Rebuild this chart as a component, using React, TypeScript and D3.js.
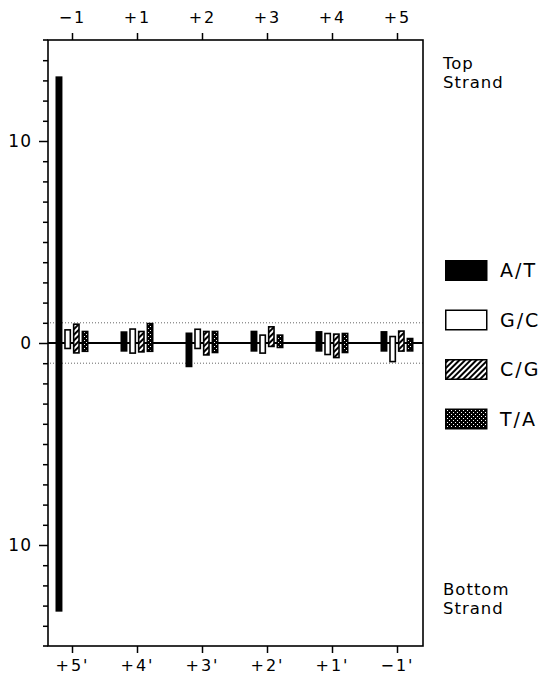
import * as React from "react"
import * as d3 from "d3"

// positions along the site, top strand and bottom strand
const topPositions = ["−1", "+1", "+2", "+3", "+4", "+5"]
const bottomPositions = ["+5'", "+4'", "+3'", "+2'", "+1'", "−1'"]
const bases = ["A/T", "G/C", "C/G", "T/A"]

// top strand values (upward)
const topAT = [13.2, 0.58, 0.52, 0.61, 0.59, 0.59]
const topGC = [0.69, 0.73, 0.72, 0.43, 0.51, 0.36]
const topCG = [0.97, 0.61, 0.61, 0.84, 0.48, 0.63]
const topTA = [0.61, 1.0, 0.61, 0.43, 0.51, 0.26]

// bottom strand values (downward)
const bottomAT = [13.3, 0.43, 1.2, 0.43, 0.43, 0.43]
const bottomGC = [0.31, 0.54, 0.31, 0.54, 0.61, 0.96]
const bottomCG = [0.53, 0.48, 0.63, 0.21, 0.76, 0.44]
const bottomTA = [0.45, 0.45, 0.51, 0.26, 0.51, 0.43]

const yTickLabels = [-10, 0, 10]

const FONT = "'DejaVu Sans', sans-serif"

export default function App() {
  const svgRef = React.useRef<SVGSVGElement>(null)

  const width = 542
  const height = 676
  const margin = { top: 40, right: 119, bottom: 30, left: 48 }
  const plotRight = width - margin.right
  const plotBottom = height - margin.bottom

  React.useEffect(() => {
    const svg = d3.select(svgRef.current)
    svg.selectAll("*").remove()

    const topVals = [topAT, topGC, topCG, topTA]
    const botVals = [bottomAT, bottomGC, bottomCG, bottomTA]
    const fills = ["#000", "#fff", "url(#hatch)", "url(#dots)"]

    const defs = svg.append("defs")
    const hatch = defs
      .append("pattern")
      .attr("id", "hatch")
      .attr("patternUnits", "userSpaceOnUse")
      .attr("width", 4)
      .attr("height", 4)
      .attr("patternTransform", "rotate(45)")
    hatch.append("rect").attr("width", 4).attr("height", 4).attr("fill", "#fff")
    hatch.append("rect").attr("width", 2).attr("height", 4).attr("fill", "#000")

    const dots = defs
      .append("pattern")
      .attr("id", "dots")
      .attr("patternUnits", "userSpaceOnUse")
      .attr("width", 4)
      .attr("height", 4)
    dots.append("rect").attr("width", 4).attr("height", 4).attr("fill", "#000")
    dots.append("rect").attr("x", 0).attr("y", 0).attr("width", 1).attr("height", 1).attr("fill", "#fff")
    dots.append("rect").attr("x", 2).attr("y", 2).attr("width", 1).attr("height", 1).attr("fill", "#fff")

    const y = d3
      .scaleLinear()
      .domain([-15, 15])
      .range([plotBottom, margin.top])

    const xTop = d3.scalePoint().domain(topPositions).range([72, 397])
    const xBottom = d3.scalePoint().domain(bottomPositions).range([72, 397])
    const xInner = d3.scaleBand().domain(bases).range([-16.5, 16.5]).paddingInner(0.2)

    // dotted reference lines at +/-1
    svg
      .selectAll(".ref")
      .data([1, -1])
      .join("line")
      .attr("x1", margin.left + 2)
      .attr("x2", plotRight)
      .attr("y1", (d) => y(d))
      .attr("y2", (d) => y(d))
      .attr("stroke", "#666")
      .attr("stroke-width", 1)
      .attr("stroke-dasharray", "1,2")

    // zero line
    svg
      .append("line")
      .attr("x1", margin.left)
      .attr("x2", plotRight)
      .attr("y1", y(0))
      .attr("y2", y(0))
      .attr("stroke", "#000")
      .attr("stroke-width", 2)

    // bars
    const bw = xInner.bandwidth()
    topPositions.forEach((pos, i) => {
      const cx = xTop(pos)!
      bases.forEach((b, j) => {
        const t = topVals[j][i]
        const bt = botVals[j][i]
        svg
          .append("rect")
          .attr("x", cx + xInner(b)! + 0.8)
          .attr("width", bw - 1.6)
          .attr("y", y(t) + 0.8)
          .attr("height", y(-bt) - y(t) - 1.6)
          .attr("fill", fills[j])
          .attr("stroke", "#000")
          .attr("stroke-width", 1.6)
      })
    })

    // frame
    svg
      .append("rect")
      .attr("x", margin.left)
      .attr("y", margin.top)
      .attr("width", plotRight - margin.left)
      .attr("height", plotBottom - margin.top)
      .attr("fill", "none")
      .attr("stroke", "#000")
      .attr("stroke-width", 1.6)
    svg
      .selectAll(".edge")
      .data([margin.top, plotBottom])
      .join("line")
      .attr("x1", 43)
      .attr("x2", margin.left)
      .attr("y1", (d) => d)
      .attr("y2", (d) => d)
      .attr("stroke", "#000")
      .attr("stroke-width", 1.6)

    const styleAxis = (g: any, size: number) => {
      g.select(".domain").remove()
      g.selectAll(".tick line").attr("stroke", "#000").attr("stroke-width", 1.5)
      g.selectAll("text")
        .attr("font-family", FONT)
        .attr("font-size", size)
        .attr("fill", "#000")
        .style("letter-spacing", "2px")
    }

    svg
      .append("g")
      .attr("transform", `translate(0, ${margin.top})`)
      .call(d3.axisTop(xTop).tickSize(7).tickPadding(10))
      .call((g) => styleAxis(g, 16))

    svg
      .append("g")
      .attr("transform", `translate(0, ${plotBottom})`)
      .call(d3.axisBottom(xBottom).tickSize(7).tickPadding(7))
      .call((g) => styleAxis(g, 16))

    svg
      .append("g")
      .attr("transform", `translate(${margin.left}, 0)`)
      .call(
        d3
          .axisLeft(y)
          .tickValues(d3.range(-14, 15))
          .tickSize(9)
          .tickPadding(7)
          .tickFormat((d: any) => (yTickLabels.includes(d) ? String(Math.abs(d)) : ""))
      )
      .call((g) => {
        styleAxis(g, 17)
        g.selectAll("text").style("letter-spacing", "1px")
        g.selectAll(".tick line")
          .filter((d: any) => !yTickLabels.includes(d))
          .attr("x2", -5)
      })

    // legend
    const legend = svg.append("g").attr("transform", "translate(445, 260)")
    bases.forEach((b, j) => {
      const gy = j * 49.5
      legend
        .append("rect")
        .attr("x", 0.75)
        .attr("y", gy + 0.75)
        .attr("width", 41)
        .attr("height", 19.5)
        .attr("fill", fills[j])
        .attr("stroke", "#000")
        .attr("stroke-width", 1.5)
      legend
        .append("text")
        .attr("x", 55)
        .attr("y", gy + 17)
        .attr("font-family", FONT)
        .attr("font-size", 19)
        .style("letter-spacing", "2px")
        .text(b)
    })

    // strand labels, one text per line
    const strandLabel = (lines: string[], y0: number) => {
      lines.forEach((l, k) => {
        svg
          .append("text")
          .attr("x", 443)
          .attr("y", y0 + k * 19)
          .attr("font-family", FONT)
          .attr("font-size", 16.5)
          .style("letter-spacing", "1px")
          .text(l)
      })
    }
    strandLabel(["Top", "Strand"], 69)
    strandLabel(["Bottom", "Strand"], 595)
  }, [])

  return (
    <svg
      ref={svgRef}
      width={width}
      height={height}
      style={{ position: "absolute", left: 0, top: 0, background: "#fff" }}
    />
  )
}
